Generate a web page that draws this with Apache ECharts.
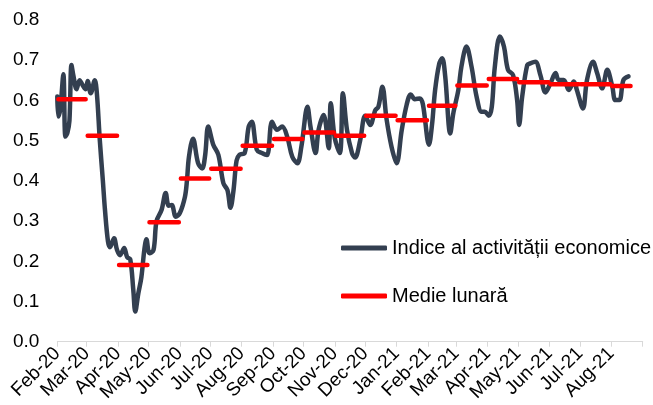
<!DOCTYPE html>
<html>
<head>
<meta charset="utf-8">
<script src="https://cdn.jsdelivr.net/npm/echarts@6/dist/echarts.min.js"></script>
<style>
html,body{margin:0;padding:0;background:#fff;}
#chart{width:653px;height:405px;}
</style>
</head>
<body>
<div id="chart"></div>
<script>
// Month tick labels (first day of each month)
const monthLabels = ['Feb-20','Mar-20','Apr-20','May-20','Jun-20','Jul-20','Aug-20','Sep-20','Oct-20','Nov-20','Dec-20',
  'Jan-21','Feb-21','Mar-21','Apr-21','May-21','Jun-21','Jul-21','Aug-21'];
// Monthly averages ("Medie lunară")
const monthlyMean = [0.603,0.512,0.191,0.297,0.406,0.430,0.487,0.504,0.520,0.512,0.562,
  0.551,0.587,0.637,0.653,0.645,0.640,0.640,0.636];
// Daily index, sampled: days since 1 Feb 2020
const activityDays = [0,1,3,6,8,10,12,14,16,19,22,25,28,30,33,37,39,42,45,47,50,52,56,59,62,66,69,72,75,77,80,83,86,88,91,95,98,
  103,107,110,113,117,121,126,128,130,134,139,143,146,149,154,159,164,168,171,174,177,180,185,189,192,197,202,207,212,217,222,227,
  232,237,241,247,250,255,258,263,268,270,274,279,282,286,291,294,299,304,309,314,317,321,325,330,335,340,345,349,353,358,361,367,
  370,373,377,380,383,388,391,396,399,404,409,414,419,422,426,429,432,437,441,445,450,454,456,459,464,467,472,477,482,487,492,495,
  500,505,510,513,519,523,529,533,538,543,548,551,555,559,564];
// Indice al activității economice
const activity = [0.61,0.56,0.58,0.665,0.51,0.52,0.55,0.688,0.66,0.628,0.65,0.638,0.628,0.648,0.618,0.65,0.62,0.50,0.40,0.33,0.25,0.235,0.257,0.228,0.215,0.233,0.21,0.205,0.13,0.075,0.12,0.16,0.23,0.255,0.22,0.228,0.30,
  0.328,0.37,0.338,0.34,0.311,0.32,0.36,0.40,0.46,0.505,0.444,0.431,0.464,0.535,0.49,0.465,0.394,0.377,0.333,0.377,0.45,0.465,0.469,0.535,0.547,0.477,0.469,0.464,0.547,0.527,0.535,0.51,
  0.46,0.444,0.485,0.584,0.535,0.469,0.527,0.564,0.481,0.593,0.506,0.469,0.618,0.527,0.469,0.458,0.50,0.562,0.539,0.576,0.584,0.634,0.555,0.485,0.444,0.525,0.59,0.615,0.603,0.605,0.59,0.49,
  0.54,0.625,0.69,0.705,0.66,0.518,0.568,0.626,0.684,0.734,0.684,0.609,0.572,0.572,0.562,0.584,0.684,0.759,0.734,0.676,0.663,0.601,0.539,0.609,0.688,0.692,0.696,0.663,0.62,0.643,0.668,0.651,
  0.651,0.626,0.647,0.626,0.58,0.651,0.696,0.668,0.63,0.676,0.634,0.601,0.601,0.651,0.66];
const yTicks = [0,0.1,0.2,0.3,0.4,0.5,0.6,0.7,0.8];

const DAY = 86400000;
const origin = Date.UTC(2020,1,1);
const monthStarts = [];
for (let i = 0; i <= monthLabels.length; i++) monthStarts.push((Date.UTC(2020,1+i,1)-origin)/DAY);
const lastDay = activityDays[activityDays.length-1];

const lineData = activityDays.map((d,i)=>[d, activity[i]]);
const meanData = [];
monthlyMean.forEach((v,i)=>{
  const s = monthStarts[i] + 1;
  const e = Math.min(monthStarts[i+1] - 1, lastDay + 2);
  meanData.push([s, v], [e, v], [e, null]);
});

const FONT = 'Arial, "Liberation Sans", sans-serif';
const chart = echarts.init(document.getElementById('chart'), null, {renderer:'canvas'});
chart.setOption({
  animation:false,
  backgroundColor:'#fff',
  textStyle:{fontFamily:FONT},
  grid:{left:57.3, right:10.3, top:20, bottom:63.3, containLabel:false},
  legend:{
    data:['Indice al activității economice','Medie lunară'],
    orient:'vertical', left:336, top:233,
    itemWidth:46, itemHeight:5, itemGap:28,
    icon:'roundRect',
    textStyle:{fontSize:20, color:'#000', fontFamily:FONT}
  },
  xAxis:{
    type:'value', min:0, max:monthStarts[monthStarts.length-1],
    splitLine:{show:false},
    axisLine:{show:true, lineStyle:{color:'#d9d9d9', width:1}},
    axisTick:{show:true, length:5, lineStyle:{color:'#d9d9d9'}, customValues:monthStarts},
    axisLabel:{
      customValues:monthStarts.slice(0, monthLabels.length),
      formatter:(v)=>{const i = monthStarts.indexOf(v); return i>=0 && i<monthLabels.length ? monthLabels[i] : '';},
      rotate:45, margin:9, fontSize:19, color:'#000', fontFamily:FONT
    }
  },
  yAxis:{
    type:'value', min:yTicks[0], max:yTicks[yTicks.length-1], interval:0.1,
    splitLine:{show:false},
    axisLine:{show:false}, axisTick:{show:false},
    axisLabel:{formatter:(v)=>v.toFixed(1), margin:18, fontSize:19, color:'#000', fontFamily:FONT}
  },
  series:[
    {
      name:'Indice al activității economice', type:'line', data:lineData,
      smooth:0.35, showSymbol:false, symbol:'none',
      lineStyle:{color:'#333f50', width:4.5, cap:'round', join:'round'},
      itemStyle:{color:'#333f50'}, z:2
    },
    {
      name:'Medie lunară', type:'line', data:meanData,
      showSymbol:false, symbol:'none', connectNulls:false,
      lineStyle:{color:'#ff0000', width:4.5, cap:'round'},
      itemStyle:{color:'#ff0000'}, z:3
    }
  ]
});
</script>
</body>
</html>
